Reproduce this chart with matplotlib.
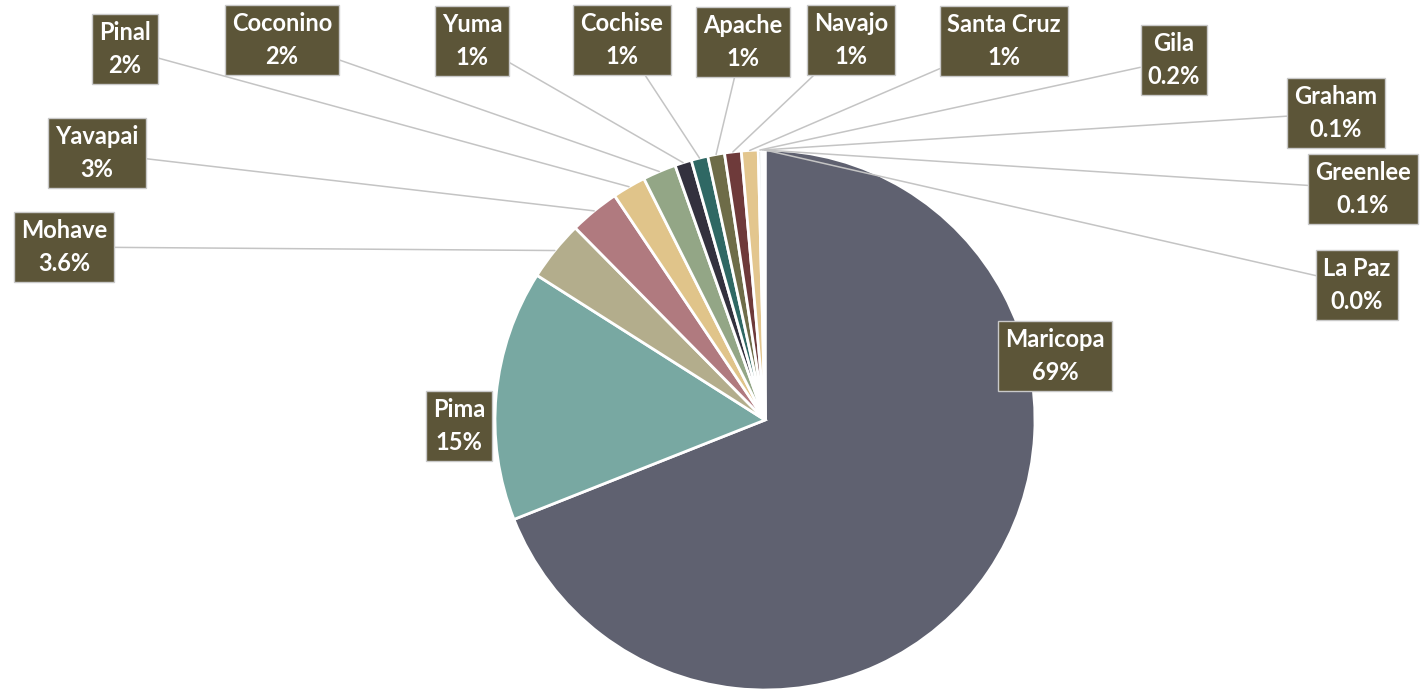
import matplotlib.pyplot as plt
import numpy as np

counties = ['Maricopa', 'Pima', 'Mohave', 'Yavapai', 'Pinal', 'Coconino', 'Yuma',
            'Cochise', 'Apache', 'Navajo', 'Santa Cruz', 'Gila', 'Graham',
            'Greenlee', 'La Paz']
shares = [69, 15, 3.6, 3, 2, 2, 1, 1, 1, 1, 1, 0.2, 0.1, 0.1, 0.0]
share_labels = ['69%', '15%', '3.6%', '3%', '2%', '2%', '1%', '1%', '1%', '1%', '1%',
                '0.2%', '0.1%', '0.1%', '0.0%']

colors = ['#5f6170', '#78a8a2', '#b3ad8c', '#b07a7f', '#e0c48a', '#93a686', '#33313e',
          '#2f6864', '#6e6c48', '#6e3a3a', '#e3c68e', '#c3cdcc', '#a9b5bb', '#d6dadd',
          '#8e9aa0']

# label box centres in figure pixels (y measured from the top)
label_pos = [(1055, 356), (459, 426), (64, 247), (97, 153), (125, 49), (282, 40),
             (472, 41), (622, 40), (743, 42), (851, 40), (1004, 41), (1174, 60),
             (1336, 113), (1363, 189), (1357, 285)]

W, H = 1422, 692
fig = plt.figure(figsize=(W / 100, H / 100), dpi=100)
ax = fig.add_axes([0, 0, 1, 1])

cx, cy, r = 765, H - 420, 270
wedges, _ = ax.pie(shares, colors=colors, startangle=90, counterclock=False,
                   center=(cx, cy), radius=r, frame=True,
                   wedgeprops=dict(edgecolor='white', linewidth=2))
ax.set_xlim(0, W)
ax.set_ylim(0, H)
ax.set_aspect('equal')
ax.axis('off')

for i, (w, name, lab) in enumerate(zip(wedges, counties, share_labels)):
    tx, ty = label_pos[i]
    ty = H - ty
    mid = np.deg2rad((w.theta1 + w.theta2) / 2)
    ex, ey = cx + r * np.cos(mid), cy + r * np.sin(mid)
    arrow = None
    if i >= 2:
        arrow = dict(arrowstyle='-', color='#c4c4c4', lw=1.1, shrinkA=0, shrinkB=0)
    ax.annotate(f'{name}\n{lab}', xy=(ex, ey), xytext=(tx, ty),
                ha='center', va='center', color='white', fontsize=17,
                fontfamily='Lato', fontweight='bold', linespacing=1.55,
                bbox=dict(boxstyle='square,pad=0.3', fc='#5c5538', ec='#c9c9c9', lw=1),
                arrowprops=arrow, zorder=5)

fig.savefig('out.png', dpi=100)
